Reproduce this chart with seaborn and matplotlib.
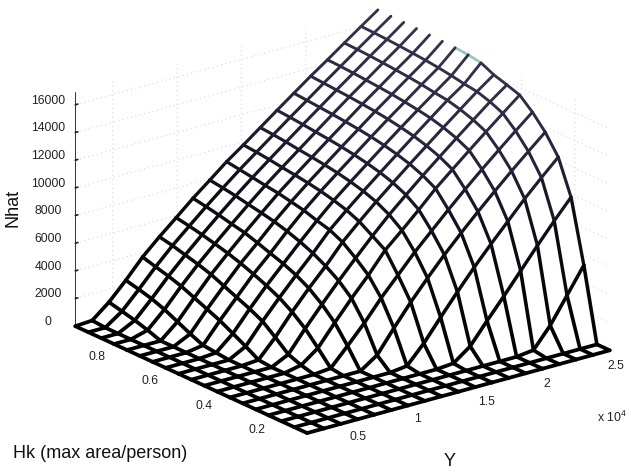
import matplotlib
matplotlib.use("Agg")
import matplotlib.pyplot as plt
import numpy as np
import seaborn as sns
from matplotlib.colors import LinearSegmentedColormap, Normalize
from mpl_toolkits.mplot3d.art3d import Line3DCollection

y_values = [2100, 3406, 4711, 6017, 7322, 8628, 9933, 11239, 12544, 13850,
            15156, 16461, 17767, 19072, 20378, 21683, 22989, 24294, 25600]
hk_values = [0.07, 0.118, 0.167, 0.215, 0.263, 0.312, 0.36, 0.408, 0.456, 0.505,
             0.553, 0.601, 0.65, 0.698, 0.746, 0.795, 0.843, 0.891, 0.94]

# Nhat, one list per Hk value, left to right along Y
nhat_00 = [0] * 19
nhat_01 = [0] * 19
nhat_02 = [0] * 15 + [150, 1600, 3440, 5290]
nhat_03 = [0] * 11 + [100, 1000, 2500, 3950, 5450, 6950, 8400, 9780]
nhat_04 = [0] * 9 + [150, 1450, 3000, 4500, 5950, 7300, 8600, 9900, 11100, 12250]
nhat_05 = [0] * 8 + [830, 2450, 3990, 5400, 6750, 8000, 9200, 10350, 11480, 12560, 13620]
nhat_06 = [0] * 6 + [120, 1400, 2720, 4200, 5520, 6850, 8050, 9250, 10400, 11500, 12570, 13620, 14640]
nhat_07 = [0] * 5 + [250, 1150, 2650, 4080, 5420, 6900, 8000, 9150, 10350, 11400, 12440, 13460, 14460, 15450]
nhat_08 = [0] * 5 + [600, 2130, 3550, 4920, 6230, 7500, 8700, 9800, 10870, 11890, 12900, 13890, 14870, 15760]
nhat_09 = [0] * 4 + [100, 1400, 2900, 4280, 5550, 6950, 8100, 9200, 10240, 11260, 12250, 13240, 14210, 15170, 16050]
nhat_10 = [0] * 4 + [650, 2130, 3500, 4800, 6050, 7400, 8500, 9540, 10550, 11540, 12520, 13490, 14450, 15300, 16490]
nhat_11 = [0] * 3 + [100, 1150, 2600, 3950, 5200, 6450, 7650, 8780, 9790, 10780, 11760, 12720, 13660, 14570, 15470, 16640]
nhat_12 = [0] * 3 + [200, 1650, 3000, 4350, 5520, 6780, 7950, 9010, 10000, 10970, 11940, 12890, 13800, 14720, 15610, 16720]
nhat_13 = [0] * 3 + [600, 2050, 3400, 4700, 5850, 7050, 8150, 9180, 10150, 11120, 12070, 13020, 13920, 14830, 15720, 16760]
nhat_14 = [0, 0, 0, 1050, 2450, 3800, 5000, 6150, 7250, 8340, 9320, 10280, 11240, 12180, 13120, 14010, 14920, 15800, 16790]
nhat_15 = [0, 0, 340, 1500, 2850, 4100, 5250, 6350, 7430, 8470, 9440, 10390, 11340, 12280, 13210, 14090, 15000, 15880, 16820]
nhat_16 = [0, 0, 620, 1850, 3150, 4350, 5480, 6570, 7620, 8620, 9580, 10520, 11450, 12360, 13280, 14170, 15070, 15940, 16840]
nhat_17 = [0, 0, 850, 2100, 3400, 4600, 5680, 6750, 7770, 8760, 9690, 10620, 11540, 12440, 13350, 14230, 15120, 15990, 16860]
nhat_18 = [0, 80, 1070, 2320, 3670, 4800, 5850, 6920, 7900, 8900, 9780, 10700, 11620, 12520, 13420, 14270, 15150, 16020, 16880]

y_ticks = [5000, 10000, 15000, 20000, 25000]
y_tick_labels = ["0.5", "1", "1.5", "2", "2.5"]
hk_ticks = [0.2, 0.4, 0.6, 0.8]
z_ticks = [0, 2000, 4000, 6000, 8000, 10000, 12000, 14000, 16000]

sns.set_theme(style="white", font="Liberation Sans")
plt.rcParams.update({"grid.color": "#d6d6d6", "grid.linestyle": (0, (1, 3)), "grid.linewidth": 0.8,
                     "mathtext.default": "regular"})

nhat = np.array([nhat_00, nhat_01, nhat_02, nhat_03, nhat_04, nhat_05, nhat_06, nhat_07, nhat_08, nhat_09,
                 nhat_10, nhat_11, nhat_12, nhat_13, nhat_14, nhat_15, nhat_16, nhat_17, nhat_18], dtype=float)
X, Y = np.meshgrid(y_values, hk_values)
z_top = 16950

fig = plt.figure(figsize=(6.31, 4.72), dpi=100)
ax = fig.add_axes([106.3 / 631, 14.8 / 472, 460 / 631, 460 / 472], projection="3d", computed_zorder=False)
ax.set_proj_type("ortho")
ax.view_init(elev=20.8, azim=232.4)
ax.set_box_aspect((382, 380, 251), zoom=1.254)
ax.set_xlim(y_values[0], y_values[-1])
ax.set_ylim(hk_values[0], hk_values[-1])
ax.set_zlim(0, z_top)
ax.patch.set_alpha(0)

# white faces hide the grid behind the mesh
surf = ax.plot_surface(X, Y, nhat, color="white", shade=False, linewidth=0, antialiased=False,
                       rstride=1, cstride=1, zorder=1)
surf.set_clip_on(False)

# mesh lines, coloured by height like the original colormap
cmap = LinearSegmentedColormap.from_list("mesh", [
    (0.0, "#000000"), (0.45, "#0d0c14"), (0.7, "#25233a"), (0.971, "#34324f"),
    (0.973, "#96c9bd"), (0.985, "#96c9bd"), (0.987, "#ffffff"), (1.0, "#ffffff")], N=4096)
segments, heights = [], []
for j in range(19):
    for i in range(18):
        segments.append([(y_values[j], hk_values[i], nhat[i, j]), (y_values[j], hk_values[i + 1], nhat[i + 1, j])])
        heights.append((nhat[i, j] + nhat[i + 1, j]) / 2)
for i in range(19):
    for j in range(18):
        segments.append([(y_values[j], hk_values[i], nhat[i, j]), (y_values[j + 1], hk_values[i], nhat[i, j + 1])])
        heights.append((nhat[i, j] + nhat[i, j + 1]) / 2)
heights = np.array(heights)
mesh = Line3DCollection(segments, cmap=cmap, norm=Normalize(0, z_top), linewidths=2.7 - 0.7 * heights / z_top,
                        capstyle="round", zorder=2)
mesh.set_array(heights)
mesh.set_clip_on(False)
ax.add_collection3d(mesh)

ax.set_xticks(y_ticks)
ax.set_xticklabels(y_tick_labels, ha="left")
ax.set_yticks(hk_ticks)
ax.set_yticklabels([str(v) for v in hk_ticks], ha="right")
ax.set_zticks(z_ticks)
ax.tick_params(axis="x", labelsize=8.8, colors="#222222", pad=-4)
ax.tick_params(axis="y", labelsize=8.8, colors="#222222", pad=-4)
ax.tick_params(axis="z", labelsize=8.8, colors="#222222", pad=0.7)
for label in ax.get_zticklabels():
    label.set_va("baseline")
ax.grid(True)
for axis in (ax.xaxis, ax.yaxis, ax.zaxis):
    axis.set_pane_color((1, 1, 1, 0))
    axis.pane.set_edgecolor("none")
    axis.line.set_color("#333333")
    axis.line.set_linewidth(0.7)
    axis._axinfo["tick"]["inward_factor"] = 0.0
    axis._axinfo["tick"]["outward_factor"] = 0.1

fig.text(13 / 631, 264 / 472, "Nhat", rotation=90, fontsize=13, color="#111111", ha="center", va="center")
fig.text(13 / 631, 19 / 472, "Hk (max area/person)", fontsize=13, color="#111111", ha="left", va="center")
fig.text(450 / 631, 11 / 472, "Y", fontsize=13, color="#111111", ha="center", va="center")
fig.text(597 / 631, 55 / 472, "x 10$^{4}$", fontsize=8.8, color="#222222", ha="left", va="center")

fig.savefig("out.png", dpi=100)
